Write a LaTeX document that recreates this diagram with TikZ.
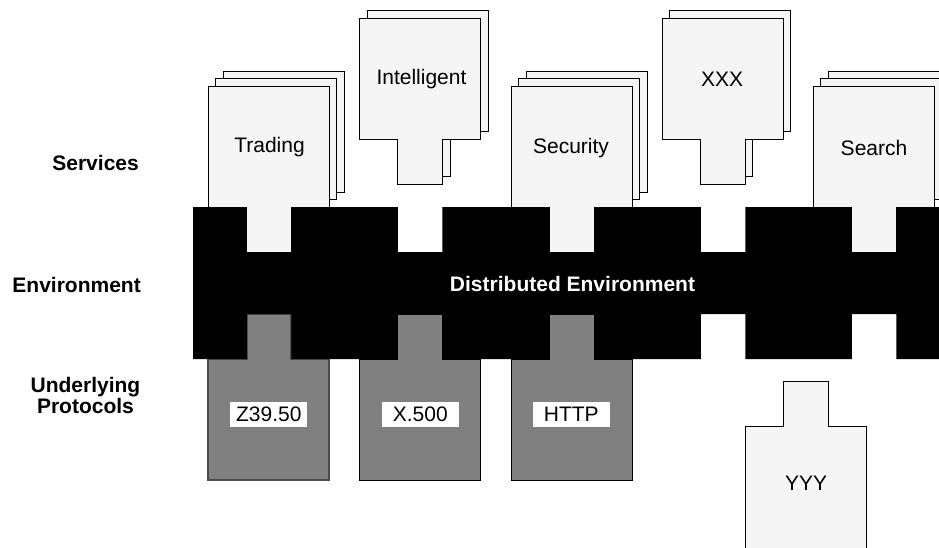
\documentclass[tikz,border=0pt]{standalone}
\usepackage{fontspec}
\setmainfont{Liberation Sans}
\definecolor{cardfill}{HTML}{F5F5F5}
\definecolor{protofill}{HTML}{808080}
\newcommand\svcpath[2]{(#1,#2) -- ++(121,0) -- ++(0,121) -- ++(-38,0) -- ++(0,45) -- ++(-44.5,0) -- ++(0,-45) -- ++(-38.5,0) -- cycle}
\newcommand\protopath[2]{(#1,#2) -- ++(38.5,0) -- ++(0,-45) -- ++(44.5,0) -- ++(0,45) -- ++(38,0) -- ++(0,121) -- ++(-121,0) -- cycle}
\tikzset{
  card/.style={draw=black, fill=cardfill, line width=1pt, line join=miter},
  proto/.style={draw=black, fill=protofill, line width=1pt},
  protoalt/.style={draw=black!70, fill=protofill, line width=2pt},
  bandfill/.style={fill=black},
  cardtext/.style={font=\fontsize{21}{25}\selectfont, inner sep=0pt},
  layertext/.style={font=\bfseries\fontsize{21}{21}\selectfont, anchor=east, align=center, inner sep=0pt},
  bandtext/.style={font=\bfseries\fontsize{21}{25}\selectfont, text=white, inner sep=0pt},
  protolabel/.style={fill=white, minimum width=77pt, minimum height=25pt, inner sep=0pt, font=\fontsize{21}{25}\selectfont}
}
\begin{document}
\begin{tikzpicture}[x=1pt,y=-1pt]
\useasboundingbox (0,0) rectangle (939,547);
\clip (0,0) rectangle (939,547);

% Trading stack
\draw[card] \svcpath{223.3}{71};
\draw[card] \svcpath{215.8}{78.5};
\draw[card] \svcpath{208.3}{86};
% Intelligent stack
\draw[card] \svcpath{367.3}{10.8};
\draw[card] \svcpath{359.3}{18.3};
% Security stack
\draw[card] \svcpath{526}{71};
\draw[card] \svcpath{518.5}{78.5};
\draw[card] \svcpath{511}{86};
% XXX stack
\draw[card] \svcpath{669.8}{10.8};
\draw[card] \svcpath{662.3}{18.3};
% Search stack
\draw[card] \svcpath{828.3}{71};
\draw[card] \svcpath{820.8}{78.5};
\draw[card] \svcpath{813.3}{86};

% protocols
\draw[protoalt] \protopath{208.3}{359};
\draw[proto] \protopath{359.3}{359};
\draw[proto] \protopath{511}{359};

% band
\fill[bandfill] (193,207)
  -- (246.8,207) -- (246.8,252) -- (291.3,252) -- (291.3,207)
  -- (397.8,207) -- (397.8,252) -- (442.3,252) -- (442.3,207)
  -- (549.5,207) -- (549.5,252) -- (594,252) -- (594,207)
  -- (700.8,207) -- (700.8,252) -- (745.3,252) -- (745.3,207)
  -- (851.8,207) -- (851.8,252) -- (896.3,252) -- (896.3,207)
  -- (950,207) -- (950,359)
  -- (896.3,359) -- (896.3,314) -- (851.8,314) -- (851.8,359)
  -- (745.3,359) -- (745.3,314) -- (700.8,314) -- (700.8,359)
  -- (594,359) -- (594,314) -- (549.5,314) -- (549.5,359)
  -- (442.3,359) -- (442.3,314) -- (397.8,314) -- (397.8,359)
  -- (291.3,359) -- (291.3,314) -- (246.8,314) -- (246.8,359)
  -- (193,359) -- cycle;

% YYY
\draw[card] (745,426.3) -- (783.3,426.3) -- (783.3,381) -- (828.3,381) -- (828.3,426.3) -- (866.7,426.3) -- (866.7,570) -- (745,570) -- cycle;

% texts
\node[cardtext] (trading) at (269.5,147.5) {Trading};
\node[cardtext] (intelligent) at (421.5,79.5) {Intelligent};
\node[cardtext] (security) at (571,148) {Security};
\node[cardtext] (xxx) at (722,79) {XXX};
\node[cardtext] (search) at (874,148) {Search};
\node[cardtext] (yyy) at (806,483) {YYY};

\node[bandtext] (dist) at (572.5,283.5) {Distributed Environment};

\node[protolabel] (z3950) at (268.8,414) {Z39.50};
\node[protolabel] (x500) at (420.3,414) {X.500};
\node[protolabel] (http) at (571.3,414) {HTTP};

\node[layertext] (services) at (139,163) {Services};
\node[layertext] (environment) at (141,285) {Environment};
\node[layertext] (underlying) at (140.5,395.5) {Underlying\\Protocols};
\end{tikzpicture}
\end{document}
